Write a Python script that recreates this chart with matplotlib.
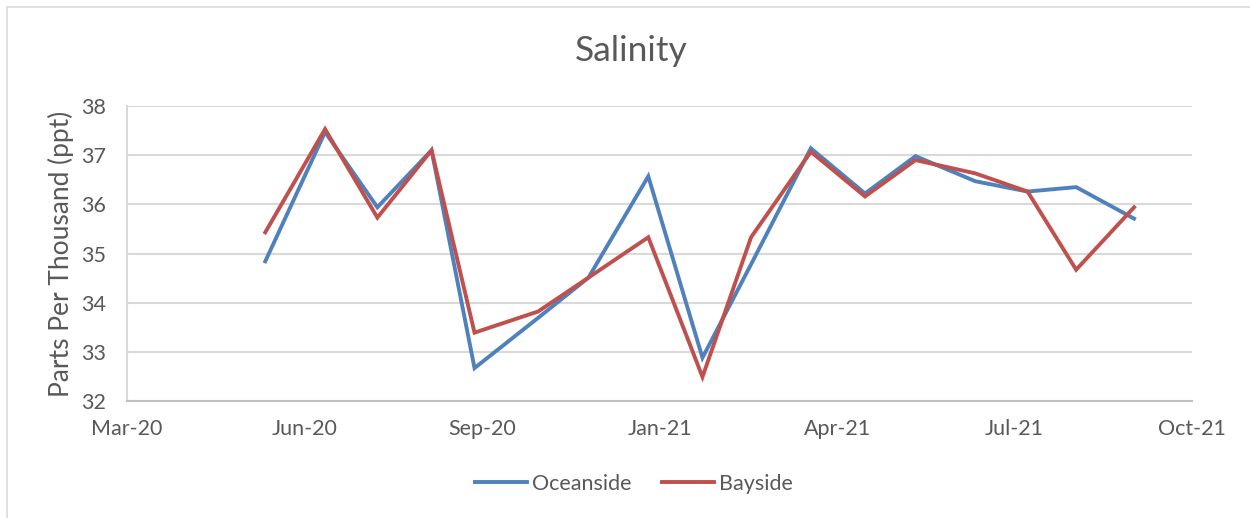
import pandas as pd
import matplotlib
matplotlib.use("Agg")
import matplotlib.pyplot as plt
from matplotlib.patches import Rectangle

# sample dates and salinity readings (ppt)
sample_dates = [
    "2020-06-05", "2020-07-07", "2020-08-04", "2020-09-02", "2020-09-25",
    "2020-10-29", "2020-11-25", "2020-12-27", "2021-01-25", "2021-02-20",
    "2021-03-24", "2021-04-22", "2021-05-19", "2021-06-20", "2021-07-18",
    "2021-08-13", "2021-09-13",
]
oceanside = [34.84, 37.47, 35.94, 37.10, 32.67, 33.69, 34.51, 36.57, 32.88,
             34.78, 37.14, 36.22, 36.98, 36.47, 36.26, 36.35, 35.71]
bayside = [35.43, 37.53, 35.73, 37.10, 33.39, 33.82, 34.51, 35.33, 32.49,
           35.33, 37.07, 36.16, 36.90, 36.63, 36.26, 34.67, 35.94]

tick_dates = ["2020-03-23", "2020-06-26", "2020-09-29", "2021-01-02",
              "2021-04-07", "2021-07-11", "2021-10-14"]
tick_labels = ["Mar-20", "Jun-20", "Sep-20", "Jan-21", "Apr-21", "Jul-21", "Oct-21"]
y_ticks = [32, 33, 34, 35, 36, 37, 38]

TEXT = "#595959"
GRID = "#d9d9d9"
BLUE = "#4f81bd"
RED = "#c0504d"

plt.rcParams["font.family"] = ["Lato", "DejaVu Sans"]

def main():
    dates = pd.to_datetime(sample_dates)
    ticks = pd.to_datetime(tick_dates)

    fig = plt.figure(figsize=(12.5, 5.18), dpi=100)
    fig.patches.append(Rectangle((7 / 1250, -0.1), 1.2, (518 - 7) / 518 + 0.1,
                                 transform=fig.transFigure, fill=False,
                                 edgecolor=GRID, linewidth=1.2))
    ax = fig.add_axes([127 / 1250, 117 / 518, 1065 / 1250, 295 / 518])

    ax.plot(dates, oceanside, color=BLUE, linewidth=2.8, label="Oceanside",
            solid_joinstyle="miter")
    ax.plot(dates, bayside, color=RED, linewidth=2.8, label="Bayside",
            solid_joinstyle="miter")

    ax.set_xlim(ticks[0], ticks[-1])
    ax.set_ylim(32, 38)
    ax.set_xticks(ticks)
    ax.set_xticklabels(tick_labels)
    ax.set_yticks(y_ticks)
    ax.grid(axis="y", color=GRID, linewidth=1.5)
    ax.set_axisbelow(True)

    for side in ["top", "right"]:
        ax.spines[side].set_visible(False)
    ax.spines["left"].set_color(GRID)
    ax.spines["left"].set_linewidth(1.5)
    ax.spines["bottom"].set_color("#bfbfbf")
    ax.spines["bottom"].set_linewidth(1.5)

    ax.tick_params(axis="y", length=0, pad=15, labelsize=15.5, labelcolor=TEXT)
    ax.tick_params(axis="x", length=0, pad=13, labelsize=15.5, labelcolor=TEXT)

    ax.set_ylabel("Parts Per Thousand (ppt)", fontsize=19, color=TEXT, labelpad=5)
    fig.text(631 / 1250, (518 - 51) / 518, "Salinity", fontsize=25.5, color=TEXT,
             ha="center", va="center")

    fig.legend(loc="center", bbox_to_anchor=(634 / 1250, 34 / 518), ncol=2,
               frameon=False, fontsize=15.5, labelcolor=TEXT, handlelength=2.4,
               handletextpad=0.25, columnspacing=1.4)

    fig.savefig("out.png", dpi=100)
    plt.close(fig)

if __name__ == "__main__":
    main()
